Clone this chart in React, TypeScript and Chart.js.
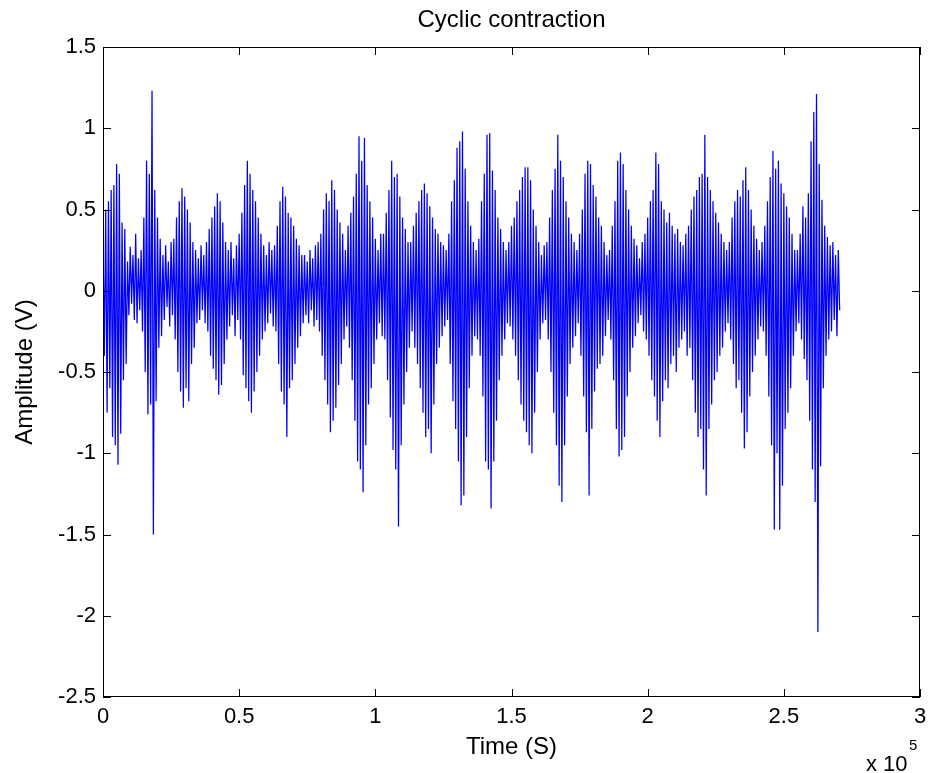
import React, { useEffect, useRef } from "react";
import { Chart, registerables } from "chart.js";

Chart.register(...registerables);

// Sample spacing (time units): peak sample at i*STEP, trough sample at i*STEP + STEP/2
const STEP = 1000;

// Positive excursions of the signal (V)
const peaks = [
  0.30, 0.50, 0.55, 0.62, 0.65, 0.78, 0.72, 0.42, 0.38, 0.18,
  0.27, 0.22, 0.35, 0.20, 0.25, 0.45, 0.80, 0.72, 1.23, 0.62,
  0.45, 0.32, 0.22, 0.28, 0.18, 0.30, 0.32, 0.45, 0.55, 0.63,
  0.58, 0.50, 0.42, 0.30, 0.25, 0.20, 0.28, 0.22, 0.30, 0.38,
  0.45, 0.52, 0.60, 0.55, 0.42, 0.30, 0.25, 0.30, 0.20, 0.28,
  0.35, 0.48, 0.65, 0.80, 0.72, 0.62, 0.55, 0.45, 0.35, 0.28,
  0.22, 0.30, 0.25, 0.28, 0.40, 0.55, 0.64, 0.58, 0.48, 0.45,
  0.40, 0.32, 0.28, 0.22, 0.22, 0.18, 0.25, 0.20, 0.28, 0.30,
  0.35, 0.50, 0.60, 0.55, 0.68, 0.62, 0.50, 0.42, 0.35, 0.25,
  0.40, 0.48, 0.58, 0.72, 0.95, 0.80, 0.94, 0.65, 0.55, 0.45,
  0.32, 0.25, 0.35, 0.35, 0.48, 0.62, 0.80, 0.70, 0.72, 0.58,
  0.45, 0.38, 0.30, 0.30, 0.40, 0.48, 0.55, 0.62, 0.66, 0.60,
  0.52, 0.45, 0.38, 0.35, 0.30, 0.28, 0.25, 0.35, 0.55, 0.68,
  0.88, 0.92, 0.98, 0.75, 0.55, 0.40, 0.30, 0.25, 0.32, 0.55,
  0.72, 0.96, 0.97, 0.74, 0.62, 0.45, 0.38, 0.30, 0.25, 0.30,
  0.40, 0.45, 0.55, 0.62, 0.70, 0.76, 0.76, 0.68, 0.50, 0.40,
  0.30, 0.22, 0.28, 0.30, 0.45, 0.62, 0.75, 0.96, 0.80, 0.70,
  0.55, 0.45, 0.35, 0.30, 0.25, 0.35, 0.50, 0.72, 0.80, 0.78,
  0.65, 0.58, 0.45, 0.40, 0.30, 0.22, 0.25, 0.40, 0.55, 0.80,
  0.85, 0.78, 0.62, 0.50, 0.40, 0.32, 0.28, 0.20, 0.30, 0.35,
  0.45, 0.55, 0.62, 0.85, 0.78, 0.55, 0.50, 0.42, 0.48, 0.40,
  0.35, 0.38, 0.30, 0.28, 0.35, 0.40, 0.50, 0.58, 0.62, 0.70,
  0.72, 0.96, 0.70, 0.62, 0.55, 0.48, 0.42, 0.35, 0.30, 0.25,
  0.30, 0.45, 0.55, 0.62, 0.58, 0.68, 0.76, 0.62, 0.50, 0.40,
  0.32, 0.25, 0.30, 0.40, 0.55, 0.70, 0.86, 0.75, 0.80, 0.66,
  0.60, 0.52, 0.45, 0.35, 0.25, 0.25, 0.35, 0.52, 0.45, 0.60,
  0.92, 1.10, 1.21, 0.78, 0.56, 0.40, 0.33, 0.28, 0.30, 0.22,
  0.25,
];

// Negative excursions of the signal (V)
const troughs = [
  -0.40, -0.75, -0.60, -0.90, -0.95, -1.07, -0.88, -0.55, -0.45, -0.15,
  -0.08, -0.18, -0.20, -0.12, -0.25, -0.50, -0.76, -0.70, -1.50, -0.68,
  -0.35, -0.28, -0.18, -0.10, -0.22, -0.15, -0.30, -0.50, -0.62, -0.72,
  -0.60, -0.68, -0.45, -0.35, -0.20, -0.18, -0.12, -0.20, -0.25, -0.40,
  -0.48, -0.55, -0.64, -0.58, -0.45, -0.30, -0.22, -0.15, -0.28, -0.18,
  -0.30, -0.52, -0.60, -0.68, -0.75, -0.62, -0.50, -0.40, -0.30, -0.25,
  -0.20, -0.14, -0.22, -0.25, -0.45, -0.62, -0.70, -0.90, -0.60, -0.55,
  -0.45, -0.35, -0.28, -0.20, -0.15, -0.20, -0.12, -0.22, -0.18, -0.25,
  -0.40, -0.55, -0.70, -0.87, -0.80, -0.72, -0.58, -0.45, -0.30, -0.22,
  -0.35, -0.55, -0.80, -1.05, -1.10, -1.24, -0.95, -0.70, -0.60, -0.45,
  -0.30, -0.20, -0.28, -0.30, -0.55, -0.78, -0.98, -1.10, -1.45, -0.95,
  -0.70, -0.50, -0.35, -0.25, -0.35, -0.45, -0.60, -0.75, -0.90, -0.85,
  -1.00, -0.70, -0.45, -0.35, -0.28, -0.22, -0.18, -0.45, -0.68, -0.85,
  -1.05, -1.32, -1.26, -0.90, -0.60, -0.40, -0.28, -0.30, -0.40, -0.65,
  -1.05, -1.10, -1.34, -1.05, -0.80, -0.55, -0.40, -0.30, -0.20, -0.22,
  -0.30, -0.40, -0.55, -0.70, -0.80, -0.87, -0.95, -1.00, -0.75, -0.50,
  -0.30, -0.20, -0.18, -0.30, -0.50, -0.75, -0.95, -1.20, -1.30, -0.95,
  -0.65, -0.45, -0.35, -0.28, -0.20, -0.40, -0.65, -0.87, -1.26, -0.85,
  -0.62, -0.48, -0.45, -0.40, -0.28, -0.18, -0.30, -0.55, -0.85, -1.02,
  -0.98, -0.90, -0.65, -0.50, -0.35, -0.28, -0.20, -0.15, -0.25, -0.30,
  -0.40, -0.55, -0.65, -0.80, -0.90, -0.68, -0.55, -0.60, -0.45, -0.40,
  -0.50, -0.35, -0.30, -0.25, -0.40, -0.35, -0.55, -0.75, -0.90, -0.85,
  -1.10, -1.26, -0.85, -0.70, -0.55, -0.50, -0.40, -0.35, -0.25, -0.20,
  -0.30, -0.45, -0.60, -0.55, -0.75, -0.97, -0.87, -0.65, -0.50, -0.40,
  -0.30, -0.22, -0.25, -0.40, -0.65, -0.95, -1.47, -1.00, -1.47, -1.20,
  -0.85, -0.75, -0.60, -0.40, -0.25, -0.20, -0.30, -0.42, -0.55, -0.80,
  -1.10, -1.30, -2.10, -1.08, -0.60, -0.40, -0.30, -0.25, -0.18, -0.28,
  -0.12,
];

const xTicks = [0, 50000, 100000, 150000, 200000, 250000, 300000];
const yTicks = [-2.5, -2, -1.5, -1, -0.5, 0, 0.5, 1, 1.5];

const TITLE = "Cyclic contraction";
const X_LABEL = "Time (S)";
const Y_LABEL = "Amplitude (V)";
const X_EXP_BASE = "x 10";
const X_EXP = "5";

const FONT = "'Liberation Sans', Arial, Helvetica, sans-serif";

export default function App() {
  const ref = useRef<HTMLCanvasElement | null>(null);

  useEffect(() => {
    if (!ref.current) return;
    const pts: { x: number; y: number }[] = [];
    for (let i = 0; i < peaks.length; i++) {
      pts.push({ x: i * STEP, y: peaks[i] });
      pts.push({ x: i * STEP + STEP / 2, y: troughs[i] });
    }

    const framePlugin = {
      id: "matlabFrame",
      afterDraw(chart: any) {
        const { ctx, chartArea } = chart;
        const { left, right, top, bottom } = chartArea;
        const xs = chart.scales.x;
        const ys = chart.scales.y;
        ctx.save();
        ctx.strokeStyle = "#000";
        ctx.lineWidth = 1;
        ctx.strokeRect(left + 0.5, top + 0.5, right - left - 1, bottom - top - 1);
        const tl = 8;
        ctx.beginPath();
        for (const v of xTicks) {
          const px = Math.round(xs.getPixelForValue(v)) + 0.5;
          ctx.moveTo(px, bottom);
          ctx.lineTo(px, bottom - tl);
          ctx.moveTo(px, top);
          ctx.lineTo(px, top + tl);
        }
        for (const v of yTicks) {
          const py = Math.round(ys.getPixelForValue(v)) + 0.5;
          ctx.moveTo(left, py);
          ctx.lineTo(left + tl, py);
          ctx.moveTo(right, py);
          ctx.lineTo(right - tl, py);
        }
        ctx.stroke();

        ctx.fillStyle = "#000";
        ctx.textAlign = "center";
        ctx.textBaseline = "middle";
        ctx.font = `24px ${FONT}`;
        ctx.fillText(TITLE, (left + right) / 2, 20);
        ctx.fillText(X_LABEL, (left + right) / 2, 747);
        ctx.save();
        ctx.translate(25, (top + bottom) / 2);
        ctx.rotate(-Math.PI / 2);
        ctx.fillText(Y_LABEL, 0, 0);
        ctx.restore();
        ctx.textAlign = "left";
        ctx.font = `22px ${FONT}`;
        ctx.fillText(X_EXP_BASE, 866, 765);
        ctx.font = `15px ${FONT}`;
        ctx.fillText(X_EXP, 909, 746);
        ctx.restore();
      },
    };

    const chart = new Chart(ref.current, {
      type: "line",
      data: {
        datasets: [
          {
            data: pts,
            borderColor: "#0000ff",
            borderWidth: 1.25,
            pointRadius: 0,
            tension: 0,
            fill: false,
          },
        ],
      },
      options: {
        animation: false,
        responsive: false,
        parsing: false as any,
        normalized: true,
        events: [],
        layout: { padding: { left: 0, right: 16, top: 47, bottom: 0 } },
        plugins: {
          legend: { display: false },
          title: { display: false },
          tooltip: { enabled: false },
        },
        scales: {
          x: {
            type: "linear",
            min: 0,
            max: 300000,
            grid: { display: false, drawTicks: false },
            border: { display: false },
            afterBuildTicks: (s: any) => {
              s.ticks = xTicks.map((v) => ({ value: v }));
            },
            afterFit: (s: any) => {
              s.height = 76;
            },
            ticks: {
              padding: 7,
              color: "#000",
              font: { family: FONT, size: 22 },
              maxRotation: 0,
              autoSkip: false,
              callback: (v: any) => String(Number(v) / 100000),
            },
          },
          y: {
            type: "linear",
            min: -2.5,
            max: 1.5,
            grid: { display: false, drawTicks: false },
            border: { display: false },
            afterBuildTicks: (s: any) => {
              s.ticks = yTicks.map((v) => ({ value: v }));
            },
            afterFit: (s: any) => {
              s.width = 103;
            },
            ticks: {
              padding: 7,
              color: "#000",
              font: { family: FONT, size: 22 },
              autoSkip: false,
              callback: (v: any) => String(v),
            },
          },
        },
      },
      plugins: [framePlugin],
    });
    return () => chart.destroy();
  }, []);

  return (
    <div style={{ position: "absolute", left: 0, top: 0, width: 936, height: 773, background: "#fff" }}>
      <canvas ref={ref} width={936} height={773} style={{ display: "block" }} />
    </div>
  );
}
